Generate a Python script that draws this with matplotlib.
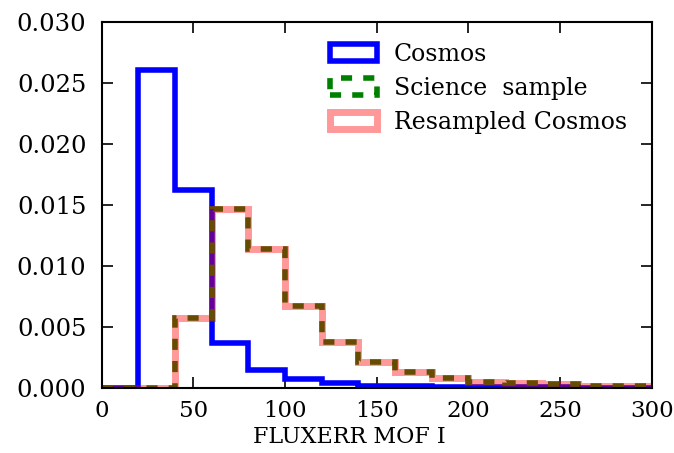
import numpy as np
import matplotlib.pyplot as plt

# normalised histograms of the I-band flux error, 20-unit bins
bin_edges = np.arange(0, 320, 20)
cosmos = [0.0, 0.0261, 0.0162, 0.0037, 0.0015, 0.0007, 0.0004, 0.0002,
          0.00015, 0.0001, 0.00008, 0.00006, 0.00005, 0.00004, 0.00003]
science = [0.0, 0.0, 0.0057, 0.0147, 0.0114, 0.0067, 0.0038, 0.0021,
           0.0013, 0.0008, 0.0005, 0.0004, 0.0003, 0.0002, 0.0002]
resampled = [0.0, 0.0, 0.0057, 0.0147, 0.0114, 0.0067, 0.0038, 0.0021,
             0.0013, 0.0008, 0.0005, 0.0004, 0.0003, 0.0002, 0.0002]

plt.rcParams['font.family'] = 'DejaVu Serif'
plt.rcParams['font.size'] = 16.5

fig = plt.figure(figsize=(6.74, 4.53), dpi=100)
ax = fig.add_axes([0.151, 0.1435, 0.816, 0.808])

centres = bin_edges[:-1] + 10
ax.hist(centres, bins=bin_edges, weights=cosmos, histtype='step',
        color='b', lw=4, label='Cosmos')
ax.hist(centres, bins=bin_edges, weights=science, histtype='step',
        color='g', lw=4, ls=(0, (2, 2)), label='Science  sample')
ax.hist(centres, bins=bin_edges, weights=resampled, histtype='step',
        color='r', lw=5, alpha=0.4, label='Resampled Cosmos')

ax.set_xlim(0, 300)
ax.set_ylim(0, 0.030)
ax.set_yticks(np.arange(0, 0.031, 0.005))
ax.set_xlabel('FLUXERR MOF I', fontsize=16)
ax.xaxis.set_label_coords(0.45, -0.105)
ax.tick_params(direction='in', length=8, width=1.2, top=True, right=True)
ax.tick_params(axis='x', pad=9)
ax.tick_params(axis='y', pad=11, labelsize=17.5)
for sp in ax.spines.values():
    sp.set_linewidth(1.5)

ax.legend(loc='upper left', frameon=False, fontsize=17, handlelength=2.0,
          handleheight=0.72, handletextpad=0.7, labelspacing=0.47,
          borderaxespad=0, bbox_to_anchor=(0.398, 0.969))

fig.savefig('out.png', dpi=100)
